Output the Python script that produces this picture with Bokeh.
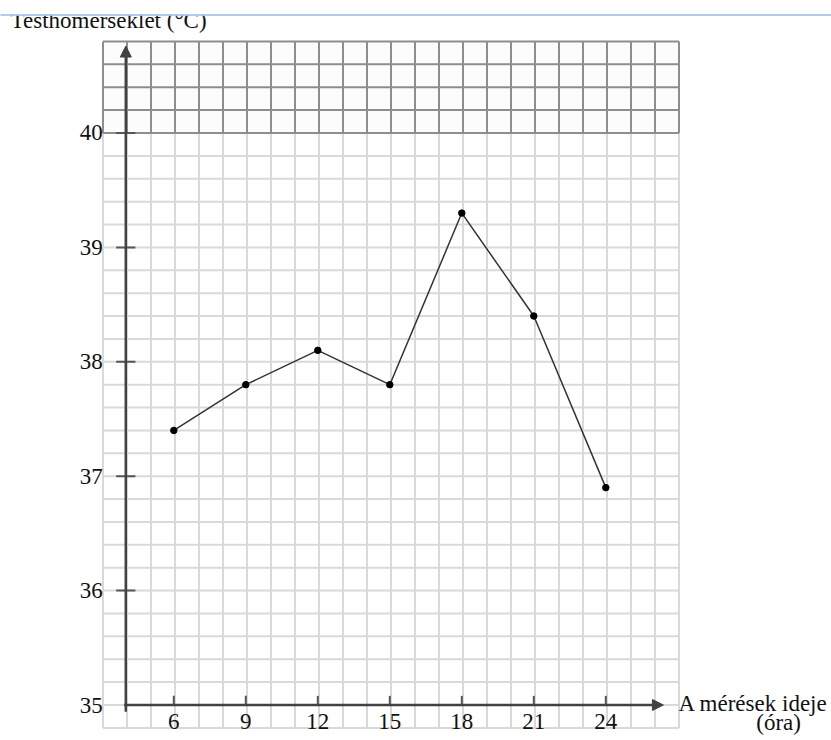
import numpy as np
from bokeh.plotting import figure
from bokeh.models import Range1d, Arrow, NormalHead
from bokeh.core.properties import value
from bokeh.embed import file_html
from bokeh.resources import INLINE

# ---- data ----
hours = [6, 9, 12, 15, 18, 21, 24]
temps = [37.4, 37.8, 38.1, 37.8, 39.3, 38.4, 36.9]
x_tick_labels = ["6", "9", "12", "15", "18", "21", "24"]
y_ticks = [35, 36, 37, 38, 39, 40]
y_tick_labels = ["35", "36", "37", "38", "39", "40"]
x_title = "A mérések ideje"
x_unit = "(óra)"
y_title = "Testhőmérséklet (°C)"

FONT = value("Liberation Serif")
FS = "23px"
AX = "#424242"
TXT = "#111111"

p = figure(width=831, height=740, output_backend="svg", toolbar_location=None,
           x_range=Range1d(-1.2208, 33.404), y_range=Range1d(34.6897, 41.1582),
           x_axis_type=None, y_axis_type=None, min_border=0,
           outline_line_color=None, background_fill_color="white")

# ---- grid paper ----
gx0, gx1 = 3.05, 27.05
gy0, gmid, gy1 = 34.8, 40.0, 40.8
grid_x = np.arange(gx0, gx1 + 0.01, 1.0)
grid_y_low = np.arange(gy0, gmid - 0.1, 0.2)
grid_y_high = np.arange(gmid, gy1 + 0.01, 0.2)

p.quad(left=gx0, right=gx1, bottom=gmid, top=gy1, fill_color="#fcfcfc", line_color=None)

p.segment(x0=grid_x, y0=[gy0] * len(grid_x), x1=grid_x, y1=[gmid] * len(grid_x),
          line_color="#d9d9d9", line_width=2)
p.segment(x0=[gx0] * len(grid_y_low), y0=grid_y_low, x1=[gx1] * len(grid_y_low), y1=grid_y_low,
          line_color="#d9d9d9", line_width=2)
p.segment(x0=grid_x, y0=[gmid] * len(grid_x), x1=grid_x, y1=[gy1] * len(grid_x),
          line_color="#8e8e8e", line_width=2)
p.segment(x0=[gx0] * len(grid_y_high), y0=grid_y_high, x1=[gx1] * len(grid_y_high), y1=grid_y_high,
          line_color="#8e8e8e", line_width=2)

# ---- axes ----
p.add_layout(Arrow(end=NormalHead(size=11, fill_color=AX, line_color=AX, line_width=1),
                   x_start=3.93, y_start=35, x_end=26.4, y_end=35,
                   line_color=AX, line_width=2.5))
p.add_layout(Arrow(end=NormalHead(size=11, fill_color=AX, line_color=AX, line_width=1),
                   x_start=4, y_start=34.94, x_end=4, y_end=40.76,
                   line_color=AX, line_width=2.5))

p.segment(x0=hours, y0=[35] * len(hours), x1=hours, y1=[35.08] * len(hours),
          line_color="#555555", line_width=2)
p.segment(x0=[3.6] * len(y_ticks[1:]), y0=y_ticks[1:], x1=[4.4] * len(y_ticks[1:]), y1=y_ticks[1:],
          line_color="#555555", line_width=2)

# tick labels
p.text(x=hours, y=[35] * len(hours), text=x_tick_labels, y_offset=16,
       text_align="center", text_baseline="alphabetic",
       text_font=FONT, text_font_size=FS, text_color=TXT)
p.text(x=[4] * len(y_ticks), y=y_ticks, text=y_tick_labels, x_offset=-23, y_offset=0,
       text_align="right", text_baseline="alphabetic",
       text_font=FONT, text_font_size=FS, text_color=TXT)

# axis titles
p.text(x=[27.03], y=[35], text=[x_title], y_offset=-2,
       text_align="left", text_baseline="alphabetic",
       text_font=FONT, text_font_size=FS, text_color=TXT)
p.text(x=[31.2], y=[35], text=[x_unit], y_offset=17,
       text_align="center", text_baseline="alphabetic",
       text_font=FONT, text_font_size=FS, text_color=TXT)
p.text(x=[-0.8], y=[40.913], text=[y_title], y_offset=-8,
       text_align="left", text_baseline="alphabetic",
       text_font=FONT, text_font_size=FS, text_color=TXT)

# page edge: hide the top of the title and draw the blue rule
p.quad(left=-2, right=34, bottom=41.027, top=41.3, fill_color="white", line_color=None)
p.segment(x0=[-2], y0=[41.031], x1=[34], y1=[41.031], line_color="#9bbbe3", line_width=1.5)

# ---- data line ----
p.line(hours, temps, line_color="#333333", line_width=1.5)
p.scatter(hours, temps, size=6.5, fill_color="black", line_color="black")

open("out.html", "w").write(file_html(p, INLINE))
